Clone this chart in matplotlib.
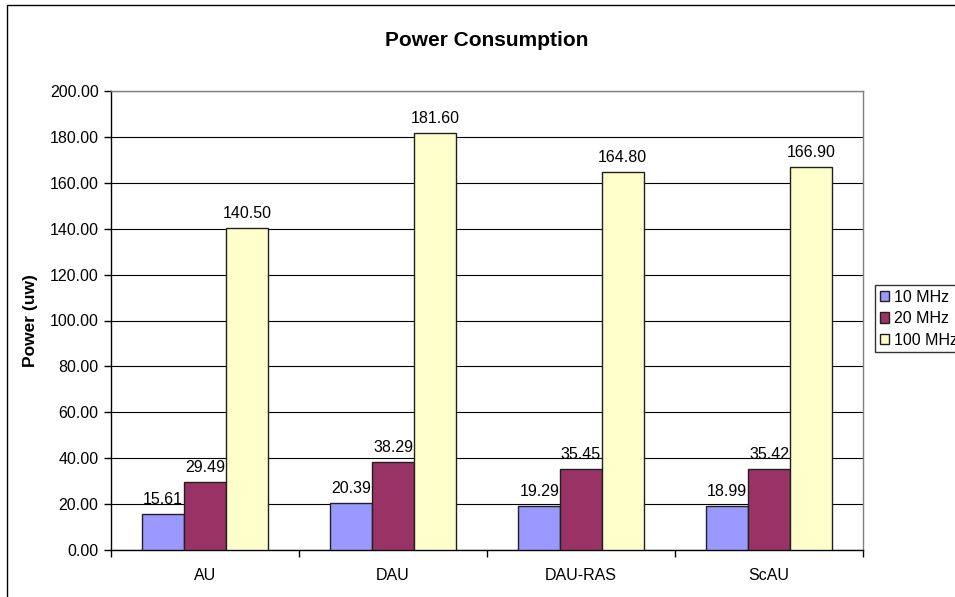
import matplotlib
matplotlib.use("Agg")
import matplotlib.pyplot as plt
import matplotlib.patches as mpatches
import numpy as np

categories = ["AU", "DAU", "DAU-RAS", "ScAU"]
series_names = ["10 MHz", "20 MHz", "100 MHz"]
power_10mhz = [15.61, 20.39, 19.29, 18.99]
power_20mhz = [29.49, 38.29, 35.45, 35.42]
power_100mhz = [140.50, 181.60, 164.80, 166.90]
y_ticks = [0, 20, 40, 60, 80, 100, 120, 140, 160, 180, 200]

colors = ["#9999FF", "#993366", "#FFFFCC"]

plt.rcParams["font.family"] = ["Liberation Sans", "DejaVu Sans"]
FS = 11.5

W, H = 955, 597
fig = plt.figure(figsize=(W / 100, H / 100), dpi=100)

# chart-area frame (extends past the right and bottom edges)
fig.patches.append(mpatches.Rectangle((7 / W, -0.1), 1.2, (H - 5) / H + 0.1,
                                      transform=fig.transFigure, fill=False,
                                      edgecolor="black", linewidth=1.0,
                                      clip_on=False))

left, right, top, bottom = 111, 863, 91, 550
ax = fig.add_axes([left / W, (H - bottom) / H, (right - left) / W, (bottom - top) / H])

x = np.arange(len(categories))
bw = 1 / 4.5
series = [power_10mhz, power_20mhz, power_100mhz]
for i, (vals, name, c) in enumerate(zip(series, series_names, colors)):
    pos = x + (i - 1) * bw
    ax.bar(pos, vals, width=bw, color=c, edgecolor="#202020", linewidth=1.0,
           label=name, zorder=3)
    for p, v in zip(pos, vals):
        ax.annotate(f"{v:.2f}", (p, v), xytext=(0, 5), textcoords="offset points",
                    ha="center", va="bottom", fontsize=FS, zorder=4)

ax.set_xlim(-0.5, len(categories) - 0.5)
ax.set_ylim(0, 200)
ax.set_yticks(y_ticks)
ax.set_yticklabels([f"{t:.2f}" for t in y_ticks], fontsize=FS)
ax.yaxis.grid(True, color="black", linewidth=0.8, zorder=0)
ax.set_axisbelow(True)

ax.set_xticks(x)
ax.set_xticklabels(categories, fontsize=FS)
ax.tick_params(axis="x", length=0, pad=13)
ax.set_xticks(np.arange(-0.5, len(categories)), minor=True)
ax.tick_params(axis="x", which="minor", length=5, width=1, direction="out")
ax.tick_params(axis="y", length=5, width=1, direction="out", pad=4)

for s in ["left", "bottom"]:
    ax.spines[s].set_color("black")
    ax.spines[s].set_linewidth(1.0)
for s in ["top", "right"]:
    ax.spines[s].set_color("#808080")
    ax.spines[s].set_linewidth(1.0)

ax.set_ylabel("Power (uw)", fontsize=12.5, fontweight="bold", labelpad=8)
fig.text(487 / W, 1 - 40 / H, "Power Consumption", fontsize=15,
         fontweight="bold", ha="center", va="center")

leg = ax.legend(loc="upper left", bbox_to_anchor=(875 / W, 1 - 285 / H),
                bbox_transform=fig.transFigure, fontsize=FS, frameon=True,
                fancybox=False, edgecolor="black", borderpad=0.3,
                handlelength=0.6, handleheight=0.6, handletextpad=0.3,
                labelspacing=0.4, borderaxespad=0)
leg.get_frame().set_linewidth(1.0)

fig.savefig("out.png", dpi=100)
